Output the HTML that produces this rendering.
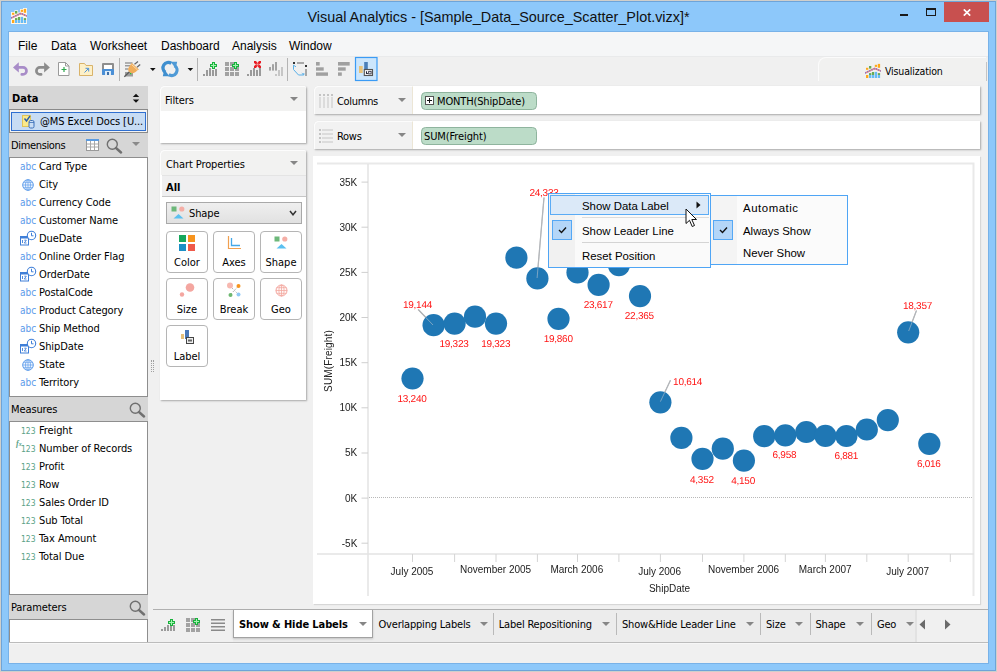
<!DOCTYPE html>
<html lang="en">
<head>
<meta charset="utf-8">
<title>Visual Analytics</title>
<style>
*{box-sizing:border-box;margin:0;padding:0}
html,body{width:997px;height:672px;overflow:hidden;background:#8dc8fa}
body{position:relative;font-family:"DejaVu Sans Condensed","Liberation Sans",sans-serif;font-size:11px;color:#000;-webkit-font-smoothing:antialiased}
.abs{position:absolute}
#frame{position:absolute;left:0;top:0;width:997px;height:672px;background:#8dc8fa;border:1px solid #d0cfcb;box-shadow:inset 0 0 0 1px #6ea4d8}
#title{position:absolute;left:0;top:9px;width:997px;text-align:center;font:14.4px "Liberation Sans",sans-serif;color:#111;white-space:nowrap}
#content{position:absolute;left:9px;top:32px;width:979px;height:631px;background:#f0f0f0;overflow:hidden;box-shadow:0 0 0 1px #78b2e8}
/* coordinates inside #content are page coords minus (9,32); we instead use a page-coordinate layer */
#page{position:absolute;left:0;top:0;width:997px;height:672px}
#menubar{position:absolute;left:9px;top:32px;width:979px;height:24px;background:#f5f6f7}
.mi{position:absolute;top:39px;font:12px "Liberation Sans",sans-serif;white-space:nowrap;color:#000}
.t{position:absolute;white-space:nowrap;line-height:13px}
.hdr{position:absolute;background:#d6d6d6}
.box{position:absolute;background:#fff;border:1px solid #8e8e8e}
.card{position:absolute;background:#fff;box-shadow:1px 1px 2px rgba(0,0,0,.3);border-radius:5px 2px 0 0}
.cardh{position:absolute;left:0;top:0;right:0;background:#f2f2f1;border-radius:5px 2px 0 0;border-top:1px solid #fcfcfc;border-left:1px solid #fcfcfc}
.tri{position:absolute;width:0;height:0;border-left:4px solid transparent;border-right:4px solid transparent;border-top:4.5px solid #868686}
.tri2{position:absolute;width:0;height:0;border-left:4px solid transparent;border-right:4px solid transparent;border-top:4.5px solid #868686}
.abc{position:absolute;font:10px "DejaVu Sans Condensed",sans-serif;color:#5b9bea;white-space:nowrap;line-height:13px}
.n123{position:absolute;font:8.5px "DejaVu Sans Condensed",sans-serif;color:#5aa287;white-space:nowrap;line-height:13px}
.btn{position:absolute;width:42px;height:42px;background:#fff;border:1px solid #b5b5b5;border-radius:4px}
.btn span{position:absolute;left:0;right:0;top:24px;text-align:center;font-size:11px;line-height:13px}
.ax{font:10px "Liberation Sans",sans-serif;fill:#222}
.dl{font:10px "Liberation Sans",sans-serif;fill:#ff1414;letter-spacing:-.27px;text-rendering:geometricPrecision}
.cm{position:absolute;font:11.4px "Liberation Sans",sans-serif;white-space:nowrap;line-height:14px;color:#000}
.tab{position:absolute;top:618px;font-size:11px;line-height:13px;white-space:nowrap}
.tsep{position:absolute;top:613px;width:1px;height:22px;background:#b9b9b9}
</style>
</head>
<body>
<div id="frame"></div>
<div id="title">Visual Analytics - [Sample_Data_Source_Scatter_Plot.vizx]*</div>
<div id="content"></div>
<div id="page">
<!--TITLEBAR-->
<svg class="abs" style="left:11px;top:8px" width="16" height="16" viewBox="0 0 16 16">
<path d="M0 16 V4 H3.500 V2.200 H7 V4.500 H9 V1 H12 V0 H16 V16 Z" fill="#fbf7ee"/>
<rect x="1" y="4.800" width="2.300" height="2" fill="#ffa81a"/><rect x="1" y="12" width="2.300" height="3" fill="#ffa81a"/>
<rect x="4" y="3" width="2.300" height="2.600" fill="#66aa55"/><rect x="4" y="10.100" width="2.300" height="1.900" fill="#66aa55"/><rect x="4" y="12" width="2.300" height="3" fill="#66bbf5"/>
<rect x="6.900" y="9" width="2.300" height="3" fill="#66aa55"/><rect x="6.900" y="12" width="2.300" height="3" fill="#66bbf5"/>
<rect x="9.800" y="1.800" width="2.300" height="2.100" fill="#ffa81a"/><rect x="9.800" y="8.900" width="2.300" height="6.100" fill="#66bbf5"/>
<rect x="12.800" y=".9" width="2.300" height="3.900" fill="#ffa81a"/><rect x="12.800" y="10.100" width="2.300" height="1.900" fill="#66aa55"/><rect x="12.800" y="12" width="2.300" height="3" fill="#66bbf5"/>
<path d="M0 10.100 L9.800 5.400 L16 8" stroke="#f0907a" stroke-width="1.600" fill="none"/>
<path d="M0 10.100 L9.800 5.400 L16 8" stroke="#8a70c8" stroke-width="1.600" fill="none" stroke-dasharray="1.200 1.200"/>
</svg>
<div class="abs" style="left:900px;top:14px;width:8px;height:2px;background:#1a1a1a"></div>
<div class="abs" style="left:926px;top:8px;width:10px;height:8px;border:1px solid #1a1a1a;border-top-width:2px"></div>
<div class="abs" style="left:944px;top:2px;width:45px;height:20px;background:#c8504f"></div>
<svg class="abs" style="left:963px;top:9px" width="8" height="7" viewBox="0 0 8 7"><path d="M.8 .4 L7.200 6.600 M7.200 .4 L.8 6.600" stroke="#fff" stroke-width="1.700" fill="none"/></svg>
<!--MENU-->
<div id="menubar"></div>
<div class="mi" style="left:18px">File</div>
<div class="mi" style="left:51px">Data</div>
<div class="mi" style="left:90px">Worksheet</div>
<div class="mi" style="left:161px">Dashboard</div>
<div class="mi" style="left:232px">Analysis</div>
<div class="mi" style="left:289px">Window</div>
<!--TOOLBAR-->
<div class="abs" style="left:9px;top:56px;width:979px;height:1px;background:#e9eaeb"></div>
<svg class="abs" style="left:0;top:56px" width="400" height="27" viewBox="0 56 400 27">
<!-- undo -->
<path d="M13 67.400 L18.800 62.200 V72.600 Z" fill="#a88cc8"/><path d="M18 67.400 H23 a3.500 3.500 0 0 1 0 7 H21.800" fill="none" stroke="#a88cc8" stroke-width="2.700" stroke-linecap="round"/>
<!-- redo -->
<path d="M49.900 67.400 L44.100 62.200 V72.600 Z" fill="#8c8c8c"/><path d="M44.900 67.400 H39.900 a3.500 3.500 0 0 0 0 7 H41.100" fill="none" stroke="#8c8c8c" stroke-width="2.700" stroke-linecap="round"/>
<!-- new -->
<path d="M58.5 62.5 H65.5 L69 66 V75.5 H58.5 Z" fill="#fff" stroke="#9a9a9a" stroke-width="1"/>
<path d="M65.5 62.5 V66 H69" fill="none" stroke="#9a9a9a" stroke-width="1"/>
<path d="M61.5 69.5 H66.5 M64 67 V72" stroke="#2fa84f" stroke-width="1.2"/>
<!-- open -->
<path d="M79.5 75.5 V63.5 H84.5 L86 65.5 H92.5 V75.5 Z" fill="#fdf0c8" stroke="#d9b36a" stroke-width="1"/>
<path d="M84.5 72.5 L88.5 68.5 M85.5 68.3 H88.7 V71.5" fill="none" stroke="#4a90d9" stroke-width="1"/>
<!-- save -->
<rect x="102" y="63" width="12" height="12" rx="1" fill="#8e8e8e"/>
<rect x="102" y="69" width="12" height="6" rx="1" fill="#4a8fd6"/>
<rect x="104" y="65" width="8" height="4" fill="#fff"/>
<rect x="105" y="71" width="6" height="4" fill="#dcebf8"/><rect x="107" y="72" width="2" height="3" fill="#3f6fa8"/>
<rect x="119" y="58" width="1" height="23" fill="#b4b4b4"/>
<!-- connect plug -->
<path d="M125 63 H132.500 M125 65.700 H130 M125 69 H128.500" stroke="#9a9a9a" stroke-width="1.400"/>
<rect x="125" y="72" width="8" height="4.500" fill="#9c9c9c"/>
<path d="M124.300 76.800 L130.500 70.800" stroke="#5a5a5a" stroke-width="1.200"/>
<path d="M134.500 64.200 L138 61.600 M137 67.200 L140.200 64.500" stroke="#666" stroke-width="1.300"/>
<path d="M131.800 63 L139 69.600 L137 70.600 C136 72.300 133 74 130.500 72.800 C128 71.500 127.400 69 129 67 L130.600 64.500 Z" fill="#f0ad5a"/>
<path d="M131.600 64.600 L137.600 70" stroke="#f9deb4" stroke-width=".9"/>
<rect x="130" y="73" width="1.200" height="1.200" fill="#22cc22"/>
<path d="M150 68 H155.6 L152.8 71 Z" fill="#111"/>
<!-- refresh -->
<path d="M171.300 63.400 A5.300 5.300 0 0 0 165.400 72.400" fill="none" stroke="#3f8fcf" stroke-width="3.300"/>
<path d="M162.800 76.300 H169.400 L164.300 69.600 Z" fill="#3f8fcf"/>
<path d="M168.700 74.600 A5.300 5.300 0 0 0 174.600 65.600" fill="none" stroke="#4f9ad6" stroke-width="3.300"/>
<path d="M177.200 61.700 H170.600 L175.700 68.400 Z" fill="#4f9ad6"/>
<path d="M187.6 68 H193.2 L190.4 71 Z" fill="#111"/>
<rect x="197" y="58" width="1" height="23" fill="#b4b4b4"/>
<!-- new worksheet -->
<g fill="#9a9a9a"><rect x="203" y="74" width="2" height="2"/><rect x="206" y="70" width="2" height="6"/><rect x="209" y="68" width="2" height="8"/><rect x="212" y="70" width="2" height="6"/><rect x="215" y="69" width="2" height="7"/></g>
<path d="M212.0 62.0 h3 v2 h2 v3 h-2 v2 h-3 v-2 h-2 v-3 h2 z" fill="#18b23c"/><path d="M213.0 63.0 h1 v2 h2 v1 h-2 v2 h-1 v-2 h-2 v-1 h2 z" fill="#a4f2b0"/>
<!-- new dashboard -->
<g fill="#a2a2a2"><rect x="225" y="62" width="4" height="4"/><rect x="230" y="62" width="4" height="4"/><rect x="225" y="67" width="4" height="4"/><rect x="230" y="67" width="4" height="4"/><rect x="235" y="67" width="4" height="4"/><rect x="225" y="72" width="4" height="4"/><rect x="230" y="72" width="4" height="4"/><rect x="235" y="72" width="4" height="4"/></g>
<path d="M234.0 62.0 h3 v2 h2 v3 h-2 v2 h-3 v-2 h-2 v-3 h2 z" fill="#18b23c"/><path d="M235.0 63.0 h1 v2 h2 v1 h-2 v2 h-1 v-2 h-2 v-1 h2 z" fill="#a4f2b0"/>
<!-- delete worksheet -->
<g fill="#9a9a9a"><rect x="247" y="74" width="2" height="2"/><rect x="250" y="70" width="2" height="6"/><rect x="253" y="68" width="2" height="8"/><rect x="256" y="70" width="2" height="6"/><rect x="259" y="68" width="2" height="8"/></g>
<rect x="254" y="61" width="7" height="7" fill="#e81c24"/>
<path d="M256 61 H259 L257.500 63 Z M256 68 H259 L257.500 66 Z M254 63 V66 L256 64.500 Z M261 63 V66 L259 64.500 Z" fill="#f0f0f0"/>
<rect x="256.500" y="63.500" width="2" height="2" fill="#f6a0a0"/>
<!-- gray bars -->
<g fill="#a2a2a2"><rect x="269" y="67" width="2" height="3.600"/><rect x="272" y="64.200" width="2" height="6.400"/><rect x="275" y="62" width="2" height="8.600"/></g>
<g fill="#c6c6c6"><rect x="275" y="74" width="2" height="2"/><rect x="278" y="70" width="2" height="6"/><rect x="281" y="67" width="2" height="9"/></g>
<rect x="287" y="58" width="1" height="23" fill="#b4b4b4"/>
<!-- swap -->
<rect x="293" y="62" width="2" height="2" fill="#333"/><rect x="297" y="62" width="7" height="2" fill="#a8a8a8"/>
<rect x="305" y="65" width="2" height="2" fill="#333"/><rect x="305" y="69" width="2" height="7" fill="#a8a8a8"/>
<path d="M293.500 65.500 V69.500 L298.500 75 H303.500" fill="none" stroke="#5ab0e8" stroke-width="1"/>
<path d="M293.500 65.200 L296 66.800 M293.500 65.200 L293.500 68 M303.800 75 L301.800 73.200 M303.800 75 L303.800 73" fill="none" stroke="#5ab0e8" stroke-width="1"/>
<!-- sort asc -->
<g fill="#a0a0a0"><rect x="316" y="62" width="3.700" height="3.600"/><rect x="316" y="67.300" width="7.700" height="3.400"/><rect x="316" y="72.400" width="12" height="3.400"/></g>
<!-- sort desc -->
<g fill="#a0a0a0"><rect x="338" y="62" width="11.700" height="3.600"/><rect x="338" y="67.300" width="7.700" height="3.400"/><rect x="338" y="72.400" width="3.800" height="3.400"/></g>
<!-- label btn -->
<rect x="355.500" y="57.500" width="21.500" height="23" fill="#cce6fc" stroke="#3a9bf5" stroke-width="1.200"/>
<rect x="359" y="66" width="3.700" height="7" fill="#e8c278"/><rect x="364.200" y="62" width="3.600" height="8" fill="#4a7fb8"/>
<rect x="364.300" y="69.500" width="8.200" height="6" fill="#f4f4f4" stroke="#555" stroke-width="1.100"/>
<rect x="366" y="71.300" width="1" height="2.400" fill="#223"/><rect x="366" y="73" width="2" height=".9" fill="#223"/><rect x="368.700" y="71.300" width="2.400" height="2.600" fill="none" stroke="#223" stroke-width=".8"/>
</svg>
<div class="abs" style="left:818px;top:57px;width:168px;height:24px;background:#f1f1f0;border-top:1px solid #fbfbfb;border-left:1px solid #fbfbfb;border-radius:8px 0 0 0"></div>
<div class="abs" style="left:986px;top:62px;width:1px;height:19px;background:#c4c4c4"></div>
<svg class="abs" style="left:865px;top:63px" width="16" height="16" viewBox="0 0 16 16">
<rect x="1" y="4.800" width="2.300" height="2" fill="#ffa81a"/><rect x="1" y="12" width="2.300" height="3" fill="#ffa81a"/>
<rect x="4" y="3" width="2.300" height="2.600" fill="#66aa55"/><rect x="4" y="10.100" width="2.300" height="1.900" fill="#66aa55"/><rect x="4" y="12" width="2.300" height="3" fill="#66bbf5"/>
<rect x="6.900" y="9" width="2.300" height="3" fill="#66aa55"/><rect x="6.900" y="12" width="2.300" height="3" fill="#66bbf5"/>
<rect x="9.800" y="1.800" width="2.300" height="2.100" fill="#ffa81a"/><rect x="9.800" y="8.900" width="2.300" height="6.100" fill="#66bbf5"/>
<rect x="12.800" y=".9" width="2.300" height="3.900" fill="#ffa81a"/><rect x="12.800" y="10.100" width="2.300" height="1.900" fill="#66aa55"/><rect x="12.800" y="12" width="2.300" height="3" fill="#66bbf5"/>
<path d="M0 10.100 L9.800 5.400 L16 8" stroke="#f0907a" stroke-width="1.600" fill="none"/>
<path d="M0 10.100 L9.800 5.400 L16 8" stroke="#8a70c8" stroke-width="1.600" fill="none" stroke-dasharray="1.200 1.200"/>
</svg>
<div class="t" style="left:885px;top:65px;font-size:10.5px;letter-spacing:-.15px">Visualization</div>
<!--LEFT-->
<div class="hdr" style="left:9px;top:86px;width:139px;height:24px"></div>
<div class="t" style="left:12px;top:92px;font-weight:bold;font-size:11px">Data</div>
<svg class="abs" style="left:132px;top:93px" width="8" height="11" viewBox="0 0 8 11"><path d="M0.8 4 L4 0.8 L7.2 4 Z M0.8 6.500 L4 9.700 L7.2 6.500 Z" fill="#111"/></svg>
<div class="abs" style="left:9px;top:109px;width:139px;height:24px;background:#f4f4f4;border:1px solid #8a8a8a"></div>
<div class="abs" style="left:11px;top:112px;width:135px;height:19px;background:#c7dcf4;border:1px solid #2f6fd0"></div>
<svg class="abs" style="left:21px;top:114px" width="15" height="15" viewBox="0 0 15 15"><rect x="1.5" y="1.5" width="8" height="11" fill="#fbe98a" stroke="#e0c45a" stroke-width="1"/><path d="M3.5 4.500 L5.5 7 L9 2" fill="none" stroke="#2d5fa8" stroke-width="1.4"/><rect x="8" y="6.500" width="5" height="7.500" rx="1.500" fill="#c9def6" stroke="#3b6fb8" stroke-width="1"/><path d="M8 8.500 H13" stroke="#3b6fb8" stroke-width=".8"/></svg>
<div class="t" style="left:40px;top:115px;letter-spacing:-.1px">@MS Excel Docs [U...</div>
<div class="hdr" style="left:9px;top:133px;width:139px;height:24px"></div>
<div class="t" style="left:11px;top:139px;letter-spacing:-.35px">Dimensions</div>
<svg class="abs" style="left:86px;top:139px" width="13" height="12" viewBox="0 0 13 12"><rect x=".5" y=".5" width="12" height="11" fill="#fff" stroke="#9a9a9a"/><rect x="0" y="0" width="13" height="2" fill="#5b9be0"/><path d="M1 5 H12 M1 8 H12 M4.500 2 V11 M8.500 2 V11" stroke="#a8a8a8" stroke-width="1"/></svg>
<svg class="abs" style="left:106px;top:138px" width="17" height="16" viewBox="0 0 17 16"><circle cx="6.300" cy="6.300" r="5" fill="none" stroke="#707070" stroke-width="1.400"/><path d="M10 10 L15 14.500" stroke="#707070" stroke-width="2.400" stroke-linecap="round"/></svg>
<div class="tri" style="left:132px;top:142px;border-top-color:#8a8a8a"></div>
<div class="box" style="left:9px;top:157px;width:139px;height:240px"></div>
<div class="abc" style="left:20px;top:160px">abc</div>
<div class="t" style="left:39px;top:160px;letter-spacing:-.1px">Card Type</div>
<svg class="abs" style="left:22px;top:179px" width="12" height="12" viewBox="0 0 12 12"><circle cx="6" cy="6" r="5.300" fill="#f2f7fe" stroke="#5b9bea" stroke-width="1"/><ellipse cx="6" cy="6" rx="2.500" ry="5.300" fill="none" stroke="#6aa5ee" stroke-width=".8"/><path d="M6 .7 V11.300 M.7 6 H11.300 M1.500 3.300 H10.500 M1.500 8.700 H10.500" stroke="#6aa5ee" stroke-width=".8"/></svg>
<div class="t" style="left:39px;top:178px;letter-spacing:-.1px">City</div>
<div class="abc" style="left:20px;top:196px">abc</div>
<div class="t" style="left:39px;top:196px;letter-spacing:-.1px">Currency Code</div>
<div class="abc" style="left:20px;top:214px">abc</div>
<div class="t" style="left:39px;top:214px;letter-spacing:-.1px">Customer Name</div>
<svg class="abs" style="left:20px;top:230px" width="17" height="16" viewBox="0 0 17 16"><rect x=".5" y="6.500" width="8" height="8.500" fill="#fff" stroke="#3f7fd8" stroke-width="1"/><rect x="0" y="6" width="9" height="2.500" fill="#3f7fd8"/><path d="M2.500 10 V13 M4.300 10.200 H6.300 L4.300 13 H6.500" fill="none" stroke="#3f7fd8" stroke-width=".9"/><circle cx="11.500" cy="5.500" r="4.200" fill="#fff" stroke="#3f7fd8" stroke-width="1.100"/><path d="M11.500 2.800 V5.800 H13.500" fill="none" stroke="#3f7fd8" stroke-width="1"/></svg>
<div class="t" style="left:39px;top:232px;letter-spacing:-.1px">DueDate</div>
<div class="abc" style="left:20px;top:250px">abc</div>
<div class="t" style="left:39px;top:250px;letter-spacing:-.1px">Online Order Flag</div>
<svg class="abs" style="left:20px;top:266px" width="17" height="16" viewBox="0 0 17 16"><rect x=".5" y="6.500" width="8" height="8.500" fill="#fff" stroke="#3f7fd8" stroke-width="1"/><rect x="0" y="6" width="9" height="2.500" fill="#3f7fd8"/><path d="M2.500 10 V13 M4.300 10.200 H6.300 L4.300 13 H6.500" fill="none" stroke="#3f7fd8" stroke-width=".9"/><circle cx="11.500" cy="5.500" r="4.200" fill="#fff" stroke="#3f7fd8" stroke-width="1.100"/><path d="M11.500 2.800 V5.800 H13.500" fill="none" stroke="#3f7fd8" stroke-width="1"/></svg>
<div class="t" style="left:39px;top:268px;letter-spacing:-.1px">OrderDate</div>
<div class="abc" style="left:20px;top:286px">abc</div>
<div class="t" style="left:39px;top:286px;letter-spacing:-.1px">PostalCode</div>
<div class="abc" style="left:20px;top:304px">abc</div>
<div class="t" style="left:39px;top:304px;letter-spacing:-.1px">Product Category</div>
<div class="abc" style="left:20px;top:322px">abc</div>
<div class="t" style="left:39px;top:322px;letter-spacing:-.1px">Ship Method</div>
<svg class="abs" style="left:20px;top:338px" width="17" height="16" viewBox="0 0 17 16"><rect x=".5" y="6.500" width="8" height="8.500" fill="#fff" stroke="#3f7fd8" stroke-width="1"/><rect x="0" y="6" width="9" height="2.500" fill="#3f7fd8"/><path d="M2.500 10 V13 M4.300 10.200 H6.300 L4.300 13 H6.500" fill="none" stroke="#3f7fd8" stroke-width=".9"/><circle cx="11.500" cy="5.500" r="4.200" fill="#fff" stroke="#3f7fd8" stroke-width="1.100"/><path d="M11.500 2.800 V5.800 H13.500" fill="none" stroke="#3f7fd8" stroke-width="1"/></svg>
<div class="t" style="left:39px;top:340px;letter-spacing:-.1px">ShipDate</div>
<svg class="abs" style="left:22px;top:359px" width="12" height="12" viewBox="0 0 12 12"><circle cx="6" cy="6" r="5.300" fill="#f2f7fe" stroke="#5b9bea" stroke-width="1"/><ellipse cx="6" cy="6" rx="2.500" ry="5.300" fill="none" stroke="#6aa5ee" stroke-width=".8"/><path d="M6 .7 V11.300 M.7 6 H11.300 M1.500 3.300 H10.500 M1.500 8.700 H10.500" stroke="#6aa5ee" stroke-width=".8"/></svg>
<div class="t" style="left:39px;top:358px;letter-spacing:-.1px">State</div>
<div class="abc" style="left:20px;top:376px">abc</div>
<div class="t" style="left:39px;top:376px;letter-spacing:-.1px">Territory</div>
<div class="hdr" style="left:9px;top:397px;width:139px;height:24px"></div>
<div class="t" style="left:11px;top:403px;letter-spacing:-.1px">Measures</div>
<svg class="abs" style="left:129px;top:402px" width="17" height="16" viewBox="0 0 17 16"><circle cx="6.300" cy="6.300" r="5" fill="none" stroke="#707070" stroke-width="1.400"/><path d="M10 10 L15 14.500" stroke="#707070" stroke-width="2.400" stroke-linecap="round"/></svg>
<div class="box" style="left:9px;top:421px;width:139px;height:174px"></div>
<div class="n123" style="left:21px;top:425px">123</div>
<div class="t" style="left:39px;top:424px;letter-spacing:-.1px">Freight</div>
<div class="n123" style="left:21px;top:443px">123</div>
<div class="abs" style="left:16px;top:439px;font:italic bold 8px 'Liberation Serif',serif;color:#5aa287;line-height:10px">f<span style="font-size:6px">x</span></div>
<div class="t" style="left:39px;top:442px;letter-spacing:-.1px">Number of Records</div>
<div class="n123" style="left:21px;top:461px">123</div>
<div class="t" style="left:39px;top:460px;letter-spacing:-.1px">Profit</div>
<div class="n123" style="left:21px;top:479px">123</div>
<div class="t" style="left:39px;top:478px;letter-spacing:-.1px">Row</div>
<div class="n123" style="left:21px;top:497px">123</div>
<div class="t" style="left:39px;top:496px;letter-spacing:-.1px">Sales Order ID</div>
<div class="n123" style="left:21px;top:515px">123</div>
<div class="t" style="left:39px;top:514px;letter-spacing:-.1px">Sub Total</div>
<div class="n123" style="left:21px;top:533px">123</div>
<div class="t" style="left:39px;top:532px;letter-spacing:-.1px">Tax Amount</div>
<div class="n123" style="left:21px;top:551px">123</div>
<div class="t" style="left:39px;top:550px;letter-spacing:-.1px">Total Due</div>
<div class="hdr" style="left:9px;top:595px;width:139px;height:24px"></div>
<div class="t" style="left:11px;top:601px;letter-spacing:-.1px">Parameters</div>
<svg class="abs" style="left:129px;top:600px" width="17" height="16" viewBox="0 0 17 16"><circle cx="6.300" cy="6.300" r="5" fill="none" stroke="#707070" stroke-width="1.400"/><path d="M10 10 L15 14.500" stroke="#707070" stroke-width="2.400" stroke-linecap="round"/></svg>
<div class="box" style="left:9px;top:619px;width:139px;height:24px"></div>
<div class="abs" style="left:9px;top:642px;width:979px;height:1px;background:#bcbcbc"></div><div class="abs" style="left:9px;top:643px;width:979px;height:1px;background:#f7f7f7"></div>
<div class="abs" style="left:151px;top:360px;width:3px;height:12px;border-left:1px dotted #a0a0a0;border-right:1px dotted #a0a0a0"></div>
<!--MID-->
<div class="card" style="left:160px;top:86px;width:146px;height:57px"><div class="cardh" style="height:25px"></div></div>
<div class="t" style="left:165px;top:94px;letter-spacing:-.1px">Filters</div>
<div class="tri" style="left:290px;top:97px"></div>
<div class="card" style="left:160px;top:150px;width:146px;height:250px"><div class="cardh" style="height:25px"></div><div class="abs" style="left:2px;top:25px;width:144px;height:22px;background:#efeff0;border-top:1px solid #e4e4e4;border-bottom:1px solid #c6c6c6"></div></div>
<div class="t" style="left:166px;top:158px;letter-spacing:-.1px">Chart Properties</div>
<div class="tri" style="left:290px;top:161px"></div>
<div class="t" style="left:166px;top:181px;font-weight:bold;font-size:11px">All</div>
<div class="abs" style="left:166px;top:202px;width:136px;height:22px;background:linear-gradient(#efefef,#e1e1e1);border:1px solid #a9a9a9"></div>
<svg class="abs" style="left:171px;top:206px" width="14" height="14" viewBox="0 0 14 14"><rect x=".5" y=".5" width="5" height="5" fill="#6db87a"/><circle cx="10.800" cy="3" r="2.600" fill="#f5aea6"/><path d="M2.500 12.500 L7.500 8 L12.500 12.500 Z" fill="#5bc0f0"/></svg>
<div class="t" style="left:189px;top:207px;letter-spacing:-.1px">Shape</div>
<svg class="abs" style="left:289px;top:210px" width="8" height="6" viewBox="0 0 8 6"><path d="M1 1 L4 4.800 L7 1" fill="none" stroke="#333" stroke-width="1.500"/></svg>
<div class="btn" style="left:166px;top:231px"><span>Color</span></div>
<svg class="abs" style="left:179px;top:235px" width="16" height="16" viewBox="0 0 16 16"><rect x="0" y="0" width="7" height="7" fill="#16a85c"/><rect x="9" y="0" width="7" height="7" fill="#f7941d"/><rect x="0" y="9" width="7" height="7" fill="#1b8fc6"/><rect x="9" y="9" width="7" height="7" fill="#ef5a4a"/></svg>
<div class="btn" style="left:213px;top:231px"><span>Axes</span></div>
<svg class="abs" style="left:227px;top:236px" width="14" height="14" viewBox="0 0 14 14"><path d="M1.500 0 V12.500 H14" fill="none" stroke="#f0a050" stroke-width="1.200"/><path d="M4.500 2 V9.500 H13" fill="none" stroke="#45a8e8" stroke-width="1.300"/></svg>
<div class="btn" style="left:260px;top:231px"><span>Shape</span></div>
<svg class="abs" style="left:274px;top:236px" width="14" height="14" viewBox="0 0 14 14"><rect x=".5" y=".5" width="5" height="5" fill="#6db87a"/><circle cx="10.800" cy="3" r="2.600" fill="#f5aea6"/><path d="M2.500 12.500 L7.500 8 L12.500 12.500 Z" fill="#5bc0f0"/></svg>
<div class="btn" style="left:166px;top:278px"><span>Size</span></div>
<svg class="abs" style="left:178px;top:282px" width="18" height="16" viewBox="0 0 18 16"><circle cx="12" cy="5.500" r="4.300" fill="#f4a6a0"/><circle cx="4" cy="12.500" r="2.200" fill="#f4a6a0"/></svg>
<div class="btn" style="left:213px;top:278px"><span>Break</span></div>
<svg class="abs" style="left:226px;top:282px" width="16" height="16" viewBox="0 0 16 16"><path d="M4 4 L12 12 M12 4.500 L5 12" stroke="#999" stroke-width=".8" stroke-dasharray="1.500 1.500"/><circle cx="4" cy="3.500" r="3" fill="#f7b8b0"/><circle cx="12.500" cy="4" r="2" fill="#f7941d"/><circle cx="4.500" cy="13" r="2" fill="#6db870"/><circle cx="12.500" cy="12.500" r="2" fill="#8fc8f5"/></svg>
<div class="btn" style="left:260px;top:278px"><span>Geo</span></div>
<svg class="abs" style="left:275px;top:284px" width="13" height="13" viewBox="0 0 13 13"><circle cx="6.500" cy="6.500" r="5.500" fill="#fff8f7" stroke="#f09a92" stroke-width=".9"/><ellipse cx="6.500" cy="6.500" rx="2.600" ry="5.500" fill="none" stroke="#f3a8a0" stroke-width=".8"/><path d="M6.500 .8 V12.200 M.8 6.500 H12.200 M1.600 3.700 H11.400 M1.600 9.300 H11.400" stroke="#f3a8a0" stroke-width=".8"/></svg>
<div class="btn" style="left:166px;top:325px"><span>Label</span></div>
<svg class="abs" style="left:179px;top:330px" width="16" height="15" viewBox="0 0 16 15"><rect x="2" y="4" width="3" height="5" fill="#e6c07a"/><rect x="6" y="0" width="4" height="9" fill="#4a78b8"/><rect x="7.500" y="7.500" width="7" height="6" fill="#eee" stroke="#444" stroke-width="1"/><rect x="9" y="9.500" width="4" height="2" fill="#666"/></svg>
<!--SHELVES-->
<div class="card" style="left:314px;top:86px;width:666px;height:28px;border-radius:5px 0 0 0"><div class="abs" style="left:0;top:0;width:99px;height:28px;border-top:1px solid #fcfcfc;border-left:1px solid #fcfcfc;background:#f2f2f2;border-right:1px solid #ece6d6;border-radius:5px 0 0 0"></div></div>
<div class="t" style="left:337px;top:95px;letter-spacing:-.3px">Columns</div>
<div class="tri" style="left:398px;top:98px"></div>
<div class="card" style="left:314px;top:121px;width:666px;height:28px;border-radius:5px 0 0 0"><div class="abs" style="left:0;top:0;width:99px;height:28px;border-top:1px solid #fcfcfc;border-left:1px solid #fcfcfc;background:#f2f2f2;border-right:1px solid #ece6d6;border-radius:5px 0 0 0"></div></div>
<div class="t" style="left:337px;top:130px;letter-spacing:-.3px">Rows</div>
<div class="tri" style="left:398px;top:133px"></div>
<svg class="abs" style="left:318px;top:94px" width="16" height="14" viewBox="0 0 16 14"><g fill="#c4c4c4"><rect x="1" y="0" width="2" height="2"/><rect x="5" y="0" width="2" height="2"/><rect x="9" y="0" width="2" height="2"/><rect x="13" y="0" width="2" height="2"/></g><g fill="#dcdcdc"><rect x="1" y="3" width="2" height="11"/><rect x="5" y="3" width="2" height="11"/><rect x="9" y="3" width="2" height="11"/><rect x="13" y="3" width="2" height="11"/></g></svg>
<svg class="abs" style="left:318px;top:129px" width="16" height="14" viewBox="0 0 16 14"><g fill="#c4c4c4"><rect x="1" y="0" width="2" height="2"/><rect x="1" y="4" width="2" height="2"/><rect x="1" y="8" width="2" height="2"/><rect x="1" y="12" width="2" height="2"/></g><g fill="#dcdcdc"><rect x="4" y="0" width="11" height="2"/><rect x="4" y="4" width="11" height="2"/><rect x="4" y="8" width="11" height="2"/><rect x="4" y="12" width="11" height="2"/></g></svg>
<div class="abs" style="left:421px;top:92px;width:116px;height:18px;background:#bcdcc8;border:1px solid #8fb49e;border-radius:4.500px"></div>
<div class="abs" style="left:421px;top:127px;width:116px;height:18px;background:#bcdcc8;border:1px solid #8fb49e;border-radius:4.500px"></div>
<div class="abs" style="left:425px;top:96px;width:9px;height:9px;background:#fff;border:1px solid #555"></div>
<div class="abs" style="left:427px;top:100px;width:5px;height:1px;background:#111"></div><div class="abs" style="left:429px;top:98px;width:1px;height:5px;background:#111"></div>
<div class="t" style="left:437px;top:95px;letter-spacing:-.15px">MONTH(ShipDate)</div>
<div class="t" style="left:424px;top:130px;letter-spacing:-.1px">SUM(Freight)</div>
<!--CHART-->
<div class="card" style="left:313px;top:156px;width:667px;height:448px;border-radius:0;box-shadow:1px 1px 1px rgba(0,0,0,.10)"></div>
<svg class="abs" style="left:0;top:0;will-change:transform" width="997" height="672" viewBox="0 0 997 672">
<path d="M317 163.500 H974.500 M973.500 163 V596" stroke="#e9e9e9" stroke-width="2" fill="none"/>
<path d="M368 164 V596" stroke="#e3e3e3" stroke-width="1.500" fill="none"/>
<path d="M317 554 H974" stroke="#e3e3e3" stroke-width="1.500" fill="none"/>
<path d="M369 497.5 H973" stroke="#b8b8b8" stroke-width="1" stroke-dasharray="1 1" fill="none"/>
<path d="M361.500 543.2 H368" stroke="#cfcfcf" stroke-width="1"/>
<text class="ax" x="357.300" y="546.6" text-anchor="end">-5K</text>
<path d="M361.500 498.1 H368" stroke="#cfcfcf" stroke-width="1"/>
<text class="ax" x="357.300" y="501.5" text-anchor="end">0K</text>
<path d="M361.500 453.0 H368" stroke="#cfcfcf" stroke-width="1"/>
<text class="ax" x="357.300" y="456.4" text-anchor="end">5K</text>
<path d="M361.500 407.8 H368" stroke="#cfcfcf" stroke-width="1"/>
<text class="ax" x="357.300" y="411.2" text-anchor="end">10K</text>
<path d="M361.500 362.7 H368" stroke="#cfcfcf" stroke-width="1"/>
<text class="ax" x="357.300" y="366.1" text-anchor="end">15K</text>
<path d="M361.500 317.5 H368" stroke="#cfcfcf" stroke-width="1"/>
<text class="ax" x="357.300" y="320.9" text-anchor="end">20K</text>
<path d="M361.500 272.4 H368" stroke="#cfcfcf" stroke-width="1"/>
<text class="ax" x="357.300" y="275.8" text-anchor="end">25K</text>
<path d="M361.500 227.2 H368" stroke="#cfcfcf" stroke-width="1"/>
<text class="ax" x="357.300" y="230.6" text-anchor="end">30K</text>
<path d="M361.500 182.1 H368" stroke="#cfcfcf" stroke-width="1"/>
<text class="ax" x="357.300" y="185.5" text-anchor="end">35K</text>
<path d="M412.5 554 V562" stroke="#d4d4d4" stroke-width="1"/>
<path d="M454.6 554 V562" stroke="#d4d4d4" stroke-width="1"/>
<path d="M496.0 554 V562" stroke="#d4d4d4" stroke-width="1"/>
<path d="M537.4 554 V562" stroke="#d4d4d4" stroke-width="1"/>
<path d="M577.5 554 V562" stroke="#d4d4d4" stroke-width="1"/>
<path d="M618.9 554 V562" stroke="#d4d4d4" stroke-width="1"/>
<path d="M660.4 554 V562" stroke="#d4d4d4" stroke-width="1"/>
<path d="M702.5 554 V562" stroke="#d4d4d4" stroke-width="1"/>
<path d="M743.9 554 V562" stroke="#d4d4d4" stroke-width="1"/>
<path d="M785.3 554 V562" stroke="#d4d4d4" stroke-width="1"/>
<path d="M825.4 554 V562" stroke="#d4d4d4" stroke-width="1"/>
<path d="M866.8 554 V562" stroke="#d4d4d4" stroke-width="1"/>
<path d="M908.2 554 V562" stroke="#d4d4d4" stroke-width="1"/>
<path d="M950.3 554 V562" stroke="#d4d4d4" stroke-width="1"/>
<text class="ax" x="412" y="575.2" text-anchor="middle">July 2005</text>
<text class="ax" x="495.6" y="572.9" text-anchor="middle">November 2005</text>
<text class="ax" x="576.8" y="572.9" text-anchor="middle">March 2006</text>
<text class="ax" x="659.6" y="574.9" text-anchor="middle">July 2006</text>
<text class="ax" x="743.6" y="573.4" text-anchor="middle">November 2006</text>
<text class="ax" x="825.2" y="573.4" text-anchor="middle">March 2007</text>
<text class="ax" x="907.7" y="574.9" text-anchor="middle">July 2007</text>
<text class="ax" x="669.500" y="591.600" text-anchor="middle">ShipDate</text>
<text class="ax" transform="translate(332 361) rotate(-90)" text-anchor="middle" style="letter-spacing:.15px">SUM(Freight)</text>
<path d="M418.2 309.5 L433 325" stroke="#a2a2a2" stroke-width="1.200" fill="none"/>
<path d="M544 197.5 L537.1 278" stroke="#a2a2a2" stroke-width="1.200" fill="none"/>
<path d="M670.5 380.2 L660.4 401.6" stroke="#a2a2a2" stroke-width="1.200" fill="none"/>
<path d="M916.5 310.5 L908.7 331" stroke="#a2a2a2" stroke-width="1.200" fill="none"/>
<circle cx="412.5" cy="378.5" r="11.100" fill="#1f77b4"/>
<circle cx="433.6" cy="325.2" r="11.100" fill="#1f77b4"/>
<circle cx="454.6" cy="323.6" r="11.100" fill="#1f77b4"/>
<circle cx="475.0" cy="316.7" r="11.100" fill="#1f77b4"/>
<circle cx="496.0" cy="323.6" r="11.100" fill="#1f77b4"/>
<circle cx="516.4" cy="257.7" r="11.100" fill="#1f77b4"/>
<circle cx="537.4" cy="278.4" r="11.100" fill="#1f77b4"/>
<circle cx="558.5" cy="318.8" r="11.100" fill="#1f77b4"/>
<circle cx="577.5" cy="272.4" r="11.100" fill="#1f77b4"/>
<circle cx="598.6" cy="284.8" r="11.100" fill="#1f77b4"/>
<circle cx="618.9" cy="265.1" r="11.100" fill="#1f77b4"/>
<circle cx="640.0" cy="296.1" r="11.100" fill="#1f77b4"/>
<circle cx="660.4" cy="402.3" r="11.100" fill="#1f77b4"/>
<circle cx="681.4" cy="437.9" r="11.100" fill="#1f77b4"/>
<circle cx="702.5" cy="458.8" r="11.100" fill="#1f77b4"/>
<circle cx="722.8" cy="448.7" r="11.100" fill="#1f77b4"/>
<circle cx="743.9" cy="460.6" r="11.100" fill="#1f77b4"/>
<circle cx="764.2" cy="436.2" r="11.100" fill="#1f77b4"/>
<circle cx="785.3" cy="435.3" r="11.100" fill="#1f77b4"/>
<circle cx="806.3" cy="432.0" r="11.100" fill="#1f77b4"/>
<circle cx="825.4" cy="435.8" r="11.100" fill="#1f77b4"/>
<circle cx="846.4" cy="436.0" r="11.100" fill="#1f77b4"/>
<circle cx="866.8" cy="429.5" r="11.100" fill="#1f77b4"/>
<circle cx="887.8" cy="420.1" r="11.100" fill="#1f77b4"/>
<circle cx="908.2" cy="332.3" r="11.100" fill="#1f77b4"/>
<circle cx="929.3" cy="443.8" r="11.100" fill="#1f77b4"/>
<path d="M418.2 309.5 L433 325" stroke="#c0c8d0" stroke-width=".8" fill="none" opacity=".7"/>
<path d="M544 197.5 L537.1 278" stroke="#c0c8d0" stroke-width=".8" fill="none" opacity=".7"/>
<path d="M670.5 380.2 L660.4 401.6" stroke="#c0c8d0" stroke-width=".8" fill="none" opacity=".7"/>
<path d="M916.5 310.5 L908.7 331" stroke="#c0c8d0" stroke-width=".8" fill="none" opacity=".7"/>
<text class="dl" x="412" y="402.3" text-anchor="middle">13,240</text>
<text class="dl" x="417.5" y="308.2" text-anchor="middle">19,144</text>
<text class="dl" x="454" y="347.2" text-anchor="middle">19,323</text>
<text class="dl" x="495.7" y="347.2" text-anchor="middle">19,323</text>
<text class="dl" x="544" y="195.6" text-anchor="middle">24,333</text>
<text class="dl" x="558.2" y="341.5" text-anchor="middle">19,860</text>
<text class="dl" x="598.2" y="308.2" text-anchor="middle">23,617</text>
<text class="dl" x="639.3" y="319.0" text-anchor="middle">22,365</text>
<text class="dl" x="687.6" y="385.0" text-anchor="middle">10,614</text>
<text class="dl" x="701.9" y="482.5" text-anchor="middle">4,352</text>
<text class="dl" x="743.1" y="484.0" text-anchor="middle">4,150</text>
<text class="dl" x="784.4" y="458.0" text-anchor="middle">6,958</text>
<text class="dl" x="846.3" y="458.9" text-anchor="middle">6,881</text>
<text class="dl" x="917.5" y="309.1" text-anchor="middle">18,357</text>
<text class="dl" x="928.8" y="467.3" text-anchor="middle">6,016</text>
</svg>
<!--CTX-->
<div class="abs" style="left:548px;top:193px;width:163px;height:75px;background:#fafafa;border:1px solid #4fa5f5"><div style="position:absolute;left:0;top:0;width:26px;height:73px;background:#f1f1f1"></div></div>
<div class="abs" style="left:550px;top:195px;width:159px;height:20px;background:#dbe9f8;border:1px solid #5aabf5"></div>
<div class="abs" style="left:582px;top:217px;width:127px;height:1px;background:#dcdcdc"></div>
<div class="abs" style="left:582px;top:242px;width:127px;height:1px;background:#d4d4d4"></div>
<div class="abs" style="left:552px;top:220px;width:20px;height:20px;background:#b4d6f8;border:1px solid #55a8f5"></div>
<svg class="abs" style="left:558px;top:226px" width="9" height="8" viewBox="0 0 9 8"><path d="M1 4 L3.500 6.500 L8 1.500" fill="none" stroke="#111" stroke-width="1.350"/></svg>
<div class="cm" style="left:582px;top:199px">Show Data Label</div>
<div class="cm" style="left:582px;top:224px">Show Leader Line</div>
<div class="cm" style="left:582px;top:249px">Reset Position</div>
<svg class="abs" style="left:696px;top:201px" width="5" height="8" viewBox="0 0 5 8"><path d="M.5 .5 L4.500 4 L.5 7.500 Z" fill="#111"/></svg>
<div class="abs" style="left:710px;top:195px;width:138px;height:70px;background:#fbfbfb;border:1px solid #4fa5f5"><div style="position:absolute;left:0;top:0;width:26px;height:68px;background:#f4f4f4"></div></div>
<div class="abs" style="left:713px;top:220px;width:20px;height:20px;background:#b4d6f8;border:1px solid #55a8f5"></div>
<svg class="abs" style="left:719px;top:226px" width="9" height="8" viewBox="0 0 9 8"><path d="M1 4 L3.500 6.500 L8 1.500" fill="none" stroke="#111" stroke-width="1.350"/></svg>
<div class="cm" style="left:743px;top:201px;letter-spacing:.55px">Automatic</div>
<div class="cm" style="left:743px;top:224px">Always Show</div>
<div class="cm" style="left:743px;top:246px">Never Show</div>
<svg class="abs" style="left:685px;top:208px" width="13" height="20" viewBox="0 0 13 20"><path d="M1 1 V15.500 L4.500 12.300 L7.200 18.500 L9.500 17.500 L6.800 11.500 H11.500 Z" fill="#fff" stroke="#111" stroke-width="1" stroke-linejoin="miter"/></svg>
<!--TABS-->
<div class="abs" style="left:153px;top:609px;width:835px;height:33px;background:#ececec;border-top:1px solid #b0b0b0"></div>
<div class="abs" style="left:153px;top:610px;width:80px;height:32px;background:#f0f0f0"></div>
<div class="abs" style="left:915px;top:610px;width:73px;height:32px;background:#f0f0f0;border-left:2px solid #e2e2e2"></div>
<div class="abs" style="left:233px;top:610px;width:140px;height:28px;background:#fff;border:1px solid #a2a2a2;border-top:0;box-shadow:0 1px 2px rgba(0,0,0,.18)"></div>
<svg class="abs" style="left:160px;top:616px" width="70" height="17" viewBox="160 616 70 17"><g fill="#9a9a9a"><rect x="161" y="629" width="2" height="2"/><rect x="164" y="627" width="2" height="4"/><rect x="167" y="625" width="2" height="6"/><rect x="170" y="623" width="2" height="8"/><rect x="173" y="625" width="2" height="6"/></g><path d="M170.0 619.0 h3 v2 h2 v3 h-2 v2 h-3 v-2 h-2 v-3 h2 z" fill="#18b23c"/><path d="M171.0 620.0 h1 v2 h2 v1 h-2 v2 h-1 v-2 h-2 v-1 h2 z" fill="#a4f2b0"/><g fill="#a2a2a2"><rect x="186" y="618" width="4" height="4"/><rect x="191" y="618" width="4" height="4"/><rect x="186" y="623" width="4" height="4"/><rect x="191" y="623" width="4" height="4"/><rect x="196" y="623" width="4" height="4"/><rect x="186" y="628" width="4" height="4"/><rect x="191" y="628" width="4" height="4"/><rect x="196" y="628" width="4" height="4"/></g><path d="M195.0 618.0 h3 v2 h2 v3 h-2 v2 h-3 v-2 h-2 v-3 h2 z" fill="#18b23c"/><path d="M196.0 619.0 h1 v2 h2 v1 h-2 v2 h-1 v-2 h-2 v-1 h2 z" fill="#a4f2b0"/><g fill="#8a8a8a"><rect x="211" y="619" width="14" height="1.500"/><rect x="211" y="622.500" width="14" height="1.500"/><rect x="211" y="626" width="14" height="1.500"/><rect x="211" y="629.500" width="14" height="1.500"/></g></svg>
<div class="tab" style="left:239px;top:618px;font-weight:bold;letter-spacing:-.1px">Show &amp; Hide Labels</div>
<div class="tri2" style="left:359px;top:622px"></div>
<div class="tab" style="left:378.5px;letter-spacing:-.2px">Overlapping Labels</div>
<div class="tri2" style="left:480px;top:622px"></div>
<div class="tsep" style="left:493px"></div>
<div class="tab" style="left:498.8px;letter-spacing:-.2px">Label Repositioning</div>
<div class="tri2" style="left:602px;top:622px"></div>
<div class="tsep" style="left:616px"></div>
<div class="tab" style="left:622px;letter-spacing:-.2px">Show&amp;Hide Leader Line</div>
<div class="tri2" style="left:746px;top:622px"></div>
<div class="tsep" style="left:760px"></div>
<div class="tab" style="left:766px;letter-spacing:-.2px">Size</div>
<div class="tri2" style="left:795px;top:622px"></div>
<div class="tsep" style="left:810px"></div>
<div class="tab" style="left:815.5px;letter-spacing:-.2px">Shape</div>
<div class="tri2" style="left:856px;top:622px"></div>
<div class="tsep" style="left:871px"></div>
<div class="tab" style="left:877px;letter-spacing:-.2px">Geo</div>
<div class="tri2" style="left:906px;top:622px"></div>
<svg class="abs" style="left:919px;top:619px" width="32" height="11" viewBox="0 0 32 11"><path d="M6 .5 L.5 5.500 L6 10.500 Z M26 .5 L31.500 5.500 L26 10.500 Z" fill="#6a6a6a"/></svg>
</div>
</body>
</html>
